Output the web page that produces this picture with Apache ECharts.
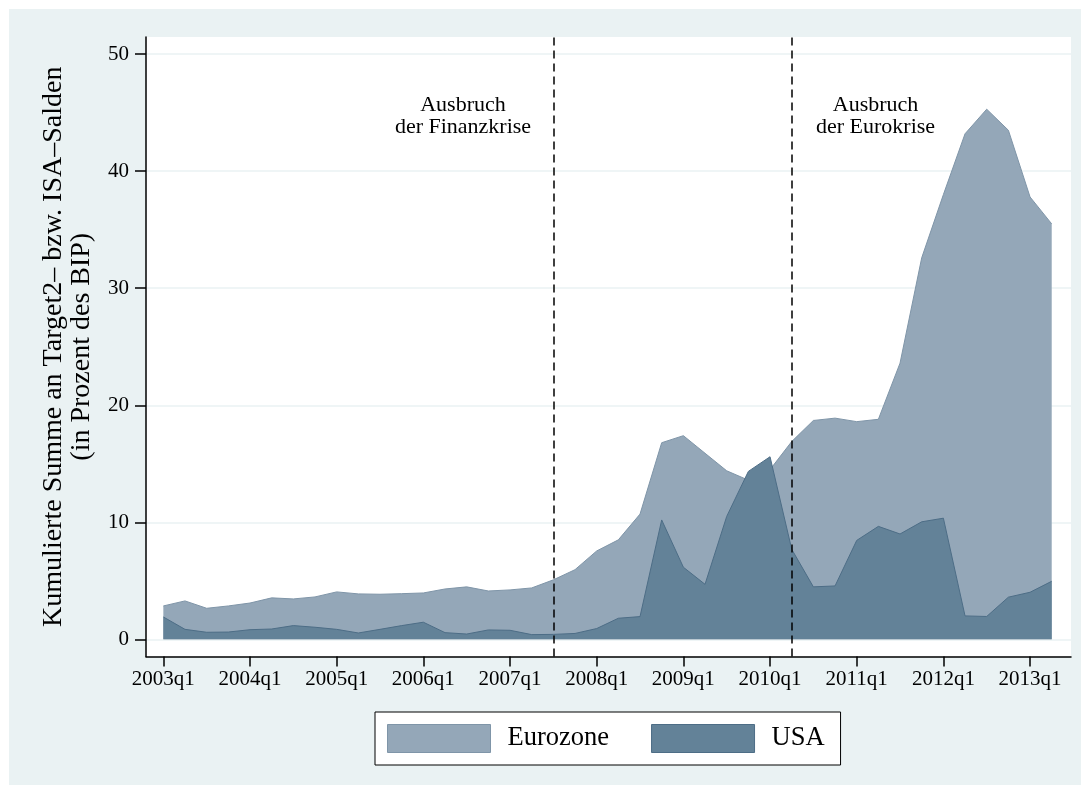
<!DOCTYPE html>
<html>
<head>
<meta charset="utf-8">
<script src="https://cdn.jsdelivr.net/npm/echarts@6/dist/echarts.min.js"></script>
<style>
  html, body { margin: 0; padding: 0; background: #ffffff; }
  #panel { position: absolute; left: 9px; top: 9px; width: 1072px; height: 776px; background: #eaf2f3; }
  #chart { position: absolute; left: 0; top: 0; width: 1090px; height: 794px; }
</style>
</head>
<body>
<div id="panel"></div>
<div id="chart"></div>
<script>
// Quarters 2003q1 .. 2013q2
const quarters = [
  '2003q1','2003q2','2003q3','2003q4','2004q1','2004q2','2004q3','2004q4',
  '2005q1','2005q2','2005q3','2005q4','2006q1','2006q2','2006q3','2006q4',
  '2007q1','2007q2','2007q3','2007q4','2008q1','2008q2','2008q3','2008q4',
  '2009q1','2009q2','2009q3','2009q4','2010q1','2010q2','2010q3','2010q4',
  '2011q1','2011q2','2011q3','2011q4','2012q1','2012q2','2012q3','2012q4',
  '2013q1','2013q2'
];
const eurozone = [
  2.85, 3.28, 2.65, 2.85, 3.10, 3.54, 3.45, 3.62,
  4.05, 3.88, 3.85, 3.90, 3.96, 4.30, 4.48, 4.13,
  4.22, 4.39, 5.08, 5.95, 7.55, 8.50, 10.7, 16.8,
  17.4, 15.9, 14.4, 13.6, 14.5, 16.9, 18.7, 18.9,
  18.6, 18.8, 23.6, 32.6, 38.0, 43.2, 45.3, 43.5,
  37.8, 35.5
];
const usa = [
  1.91, 0.85, 0.60, 0.62, 0.82, 0.88, 1.17, 1.03,
  0.85, 0.54, 0.85, 1.17, 1.46, 0.57, 0.45, 0.80,
  0.77, 0.40, 0.42, 0.50, 0.92, 1.80, 1.94, 10.2,
  6.16, 4.70, 10.5, 14.35, 15.6, 7.70, 4.48, 4.56,
  8.45, 9.65, 9.00, 10.04, 10.35, 2.00, 1.95, 3.60,
  4.02, 4.96
];
const xTickIdx = [0, 4, 8, 12, 16, 20, 24, 28, 32, 36, 40];
const yTicks = [0, 10, 20, 30, 40, 50];
const eventIdx = ['2007q3', '2010q2'];
const eventText = ['Ausbruch\nder Finanzkrise', 'Ausbruch\nder Eurokrise'];

const FONT = '"Liberation Serif", "DejaVu Serif", serif';
const euroFill = '#94a7b8', euroLine = '#7f95a8';
const usaFill = '#638298', usaLine = '#4d6d86';

const toPairs = arr => arr.map((v, i) => [i, v]);

const chart = echarts.init(document.getElementById('chart'), null, { renderer: 'canvas' });
chart.setOption({
  backgroundColor: 'transparent',
  animation: false,
  textStyle: { fontFamily: FONT },
  grid: {
    left: 146, right: 19, top: 37, bottom: 137.5,
    show: true, backgroundColor: '#ffffff', borderWidth: 0, containLabel: false
  },
  xAxis: {
    type: 'value',
    min: -0.8, max: 41.89,
    axisLine: { show: true, onZero: false, lineStyle: { color: '#000', width: 1.5 } },
    axisTick: { show: true, length: 10, customValues: xTickIdx, lineStyle: { color: '#000', width: 1.5 } },
    axisLabel: {
      customValues: xTickIdx, margin: 12, color: '#000', fontSize: 21, fontFamily: FONT,
      formatter: v => quarters[Math.round(v)] || ''
    },
    splitLine: { show: false }
  },
  yAxis: {
    type: 'value',
    min: -1.47, max: 51.47,
    name: 'Kumulierte Summe an Target2\u2013 bzw. ISA\u2013Salden\n(in Prozent des BIP)',
    nameLocation: 'middle', nameRotate: 90, nameGap: 50,
    nameTextStyle: { fontSize: 28, lineHeight: 28, color: '#000', fontFamily: FONT },
    axisLine: { show: true, onZero: false, lineStyle: { color: '#000', width: 1.5 } },
    axisTick: { show: true, length: 11, customValues: yTicks, lineStyle: { color: '#000', width: 1.5 } },
    axisLabel: { customValues: yTicks, margin: 17, color: '#000', fontSize: 21, fontFamily: FONT },
    splitLine: { show: true, lineStyle: { color: '#eaf2f3', width: 1.5 } }
  },
  legend: {
    left: 375, top: 712,
    orient: 'horizontal',
    backgroundColor: '#ffffff', borderColor: '#000', borderWidth: 1,
    padding: [12, 16, 12, 12],
    itemWidth: 103, itemHeight: 28, itemGap: 42,
    icon: 'rect',
    textStyle: { fontSize: 26.5, lineHeight: 28, color: '#000', fontFamily: FONT, padding: [0, 0, 0, 12] },
    data: [
      { name: 'Eurozone', itemStyle: { color: euroFill, borderColor: euroLine, borderWidth: 1 } },
      { name: 'USA', itemStyle: { color: usaFill, borderColor: usaLine, borderWidth: 1 } }
    ]
  },
  series: [
    {
      name: 'Eurozone', type: 'line', data: toPairs(eurozone),
      showSymbol: false, symbol: 'none', z: 2,
      itemStyle: { color: euroFill },
      lineStyle: { color: euroLine, width: 1 },
      areaStyle: { color: euroFill, opacity: 1 },
      markLine: {
        silent: true, symbol: 'none', animation: false,
        label: { show: false },
        lineStyle: { color: '#000', width: 1.5, type: [8, 5] },
        data: eventIdx.map(q => ({ xAxis: quarters.indexOf(q) }))
      },
      markPoint: {
        silent: true, symbol: 'rect', symbolSize: 1,
        itemStyle: { color: 'rgba(0,0,0,0)' },
        label: {
          show: true, position: 'inside', color: '#000', fontSize: 22, lineHeight: 22,
          fontFamily: FONT, align: 'center', verticalAlign: 'middle',
          formatter: p => p.data.text
        },
        data: [
          { coord: [13.83, 44.74], text: eventText[0] },
          { coord: [32.87, 44.74], text: eventText[1] }
        ]
      }
    },
    {
      name: 'USA', type: 'line', data: toPairs(usa),
      showSymbol: false, symbol: 'none', z: 3,
      itemStyle: { color: usaFill },
      lineStyle: { color: usaLine, width: 1 },
      areaStyle: { color: usaFill, opacity: 1 }
    }
  ]
});
</script>
</body>
</html>
